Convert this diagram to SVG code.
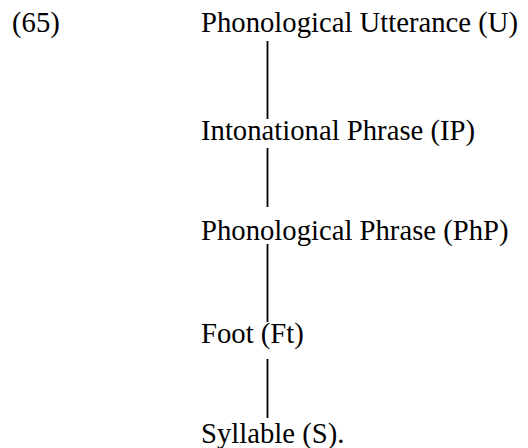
<svg xmlns="http://www.w3.org/2000/svg" width="528" height="448" viewBox="0 0 528 448">
<style>
.t{font-size:28.7px;fill:#000}
.c{stroke:#000;stroke-width:1.8;fill:none}
</style>
<rect width="528" height="448" fill="#fff"/>
<g font-family="'Liberation Serif', 'Times New Roman', serif">
<text class="t" id="num" x="12" y="32">(65)</text>
<g id="connectors">
<line class="c" x1="267.5" y1="41" x2="267.5" y2="119"/>
<line class="c" x1="267.5" y1="148" x2="267.5" y2="207"/>
<line class="c" x1="267.5" y1="244" x2="267.5" y2="322"/>
<line class="c" x1="267.5" y1="359" x2="267.5" y2="418"/>
</g>
<g id="U"><text class="t" x="201" y="32">Phonological Utterance (U)</text></g>
<g id="IP"><text class="t" x="201" y="140">Intonational Phrase (IP)</text></g>
<g id="PhP"><text class="t" x="201" y="240">Phonological Phrase (PhP)</text></g>
<g id="Ft"><text class="t" x="201" y="343">Foot (Ft)</text></g>
<g id="S"><text class="t" x="201" y="443">Syllable (S).</text></g>
</g>
</svg>
